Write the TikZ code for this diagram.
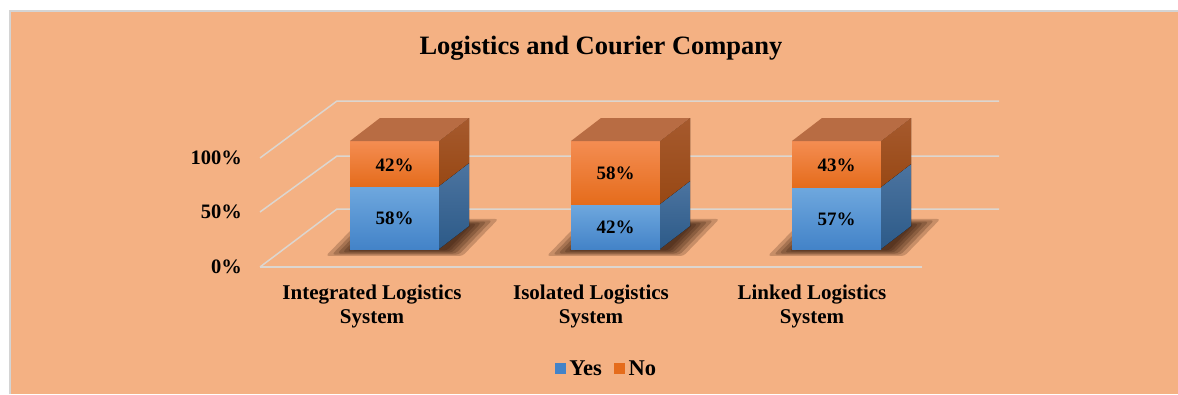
\documentclass[tikz,border=0pt]{standalone}
\usepackage{fontspec}
\setmainfont{Liberation Serif}
\usepackage{xcolor}
\usetikzlibrary{positioning}

\definecolor{chartbg}{HTML}{F4B183}
\definecolor{framegray}{HTML}{D4D4D4}
\definecolor{gridgray}{HTML}{DCD6D0}
\definecolor{yestop}{HTML}{6FA8DE}
\definecolor{yesbot}{HTML}{4383C8}
\definecolor{yessidetop}{HTML}{4C74A0}
\definecolor{yessidebot}{HTML}{2C5A88}
\definecolor{notop}{HTML}{F48D52}
\definecolor{nobot}{HTML}{E56C1C}
\definecolor{nosidetop}{HTML}{A65A2E}
\definecolor{nosidebot}{HTML}{984814}
\definecolor{nolid}{HTML}{B86C43}
\definecolor{shadowbrown}{HTML}{2E1406}

% soft shadow under a bar, #1 = centre of its footprint
\newcommand{\barshadow}[1]{%
  \foreach \s in {1.12,1.04,0.97,0.90,0.84,0.78}
    \fill[shadowbrown,opacity=.22,rounded corners=3pt,shift={#1},scale=\s]
      (-76,16) -- (46,16) -- (78,-17) -- (-44,-17) -- cycle;}

\begin{document}
\begin{tikzpicture}[x=1pt,y=-1pt,
    grid line/.style={draw=gridgray,line width=1.5pt},
    yes front/.style={top color=yestop,bottom color=yesbot},
    yes side/.style={top color=yessidetop,bottom color=yessidebot},
    no front/.style={top color=notop,bottom color=nobot},
    no side/.style={top color=nosidetop,bottom color=nosidebot},
    no lid/.style={fill=nolid},
    axis label/.style={font=\fontsize{20.5}{24}\selectfont\bfseries,anchor=east,inner sep=0pt},
    value label/.style={font=\fontsize{19}{22}\selectfont\bfseries,inner sep=0pt},
    cat label/.style={font=\fontsize{21}{24}\selectfont\bfseries,align=center,inner sep=0pt},
    legend box/.style={minimum size=11pt,inner sep=0pt},
    legend text/.style={font=\fontsize{22.5}{26}\selectfont\bfseries,inner sep=0pt}]

  \useasboundingbox (0,0) rectangle (1178,394);

  % chart area
  \fill[chartbg] (10,11) rectangle (1178,394);
  \draw[framegray,line width=1.2pt] (10,394) -- (10,11) -- (1178,11);

  \node[font=\fontsize{26.5}{30}\selectfont\bfseries] (title) at (601,48) {Logistics and Courier Company};

  % walls and floor
  \draw[grid line] (260,158) -- (337,101) -- (999,101);
  \draw[grid line] (260,212) -- (337,156) -- (999,156);
  \draw[grid line] (260,267) -- (337,209) -- (999,209);
  \draw[grid line] (260,267) -- (922,267);

  \node[axis label] (tick100) at (242,158) {100\%};
  \node[axis label] (tick50) at (242,212) {50\%};
  \node[axis label] (tick0) at (242,267) {0\%};

  % shadows
  \barshadow{(411,238)}
  \barshadow{(632,238)}
  \barshadow{(853,238)}

  % bar 1
  \fill[yes front] (350,249) rectangle (439,186);
  \fill[no front] (350,186) rectangle (439,141);
  \fill[yes side] (439,249) -- (469,226) -- (469,163) -- (439,186) -- cycle;
  \fill[no side] (439,186) -- (469,163) -- (469,118) -- (439,141) -- cycle;
  \fill[no lid] (350,141) -- (439,141) -- (469,118) -- (380,118) -- cycle;
  \node[value label] (yes1) at (394.5,218) {58\%};
  \node[value label] (no1) at (394.5,165) {42\%};

  % bar 2
  \fill[yes front] (571,249) rectangle (660,204);
  \fill[no front] (571,204) rectangle (660,141);
  \fill[yes side] (660,249) -- (690,226) -- (690,181) -- (660,204) -- cycle;
  \fill[no side] (660,204) -- (690,181) -- (690,118) -- (660,141) -- cycle;
  \fill[no lid] (571,141) -- (660,141) -- (690,118) -- (601,118) -- cycle;
  \node[value label] (yes2) at (615.5,227) {42\%};
  \node[value label] (no2) at (615.5,173) {58\%};

  % bar 3
  \fill[yes front] (792,249) rectangle (881,187);
  \fill[no front] (792,187) rectangle (881,141);
  \fill[yes side] (881,249) -- (911,226) -- (911,164) -- (881,187) -- cycle;
  \fill[no side] (881,187) -- (911,164) -- (911,118) -- (881,141) -- cycle;
  \fill[no lid] (792,141) -- (881,141) -- (911,118) -- (822,118) -- cycle;
  \node[value label] (yes3) at (836.5,219) {57\%};
  \node[value label] (no3) at (836.5,165) {43\%};

  % categories
  \node[cat label] (cat1) at (372,306) {Integrated Logistics\\System};
  \node[cat label] (cat2) at (591,306) {Isolated Logistics\\System};
  \node[cat label] (cat3) at (812,306) {Linked Logistics\\System};

  % legend
  \node[legend box,fill=yesbot] (yesbox) at (560.5,368) {};
  \node[legend text,right=3pt of yesbox] (yes) {Yes};
  \node[legend box,fill=nobot,right=12pt of yes] (nobox) {};
  \node[legend text,right=3pt of nobox] (no) {No};
\end{tikzpicture}
\end{document}
